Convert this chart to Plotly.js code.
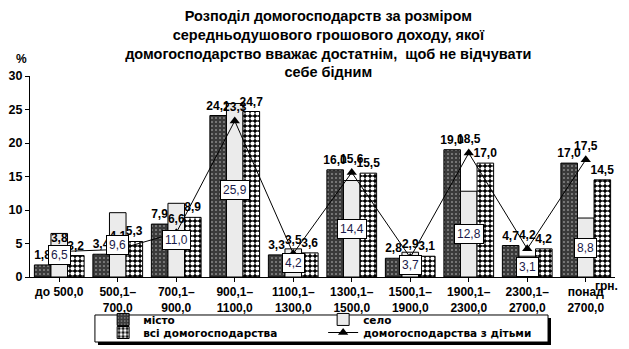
<!DOCTYPE html>
<html>
<head>
<meta charset="utf-8">
<script src="https://cdn.plot.ly/plotly-3.0.1.min.js"></script>
<style>html,body{margin:0;padding:0;background:#fff;}#chart{width:629px;height:349px;}</style>
</head>
<body>
<div id="chart"></div>
<script>
const categories = ["до 500,0", "500,1–<br>700,0", "700,1–<br>900,0", "900,1–<br>1100,0", "1100,1–<br>1300,0", "1300,1–<br>1500,0", "1500,1–<br>1900,0", "1900,1–<br>2300,0", "2300,1–<br>2700,0", "понад<br>2700,0"];
const misto = [1.8, 3.4, 7.9, 24.1, 3.3, 16.0, 2.8, 19.0, 4.7, 17.0];
const selo = [6.5, 9.6, 11.0, 25.9, 4.2, 14.4, 3.7, 12.8, 3.1, 8.8];
const vsi = [3.2, 5.3, 8.9, 24.7, 3.6, 15.5, 3.1, 17.0, 4.2, 14.5];
const dity = [3.8, 4.1, 6.6, 23.3, 3.5, 15.6, 2.9, 18.5, 4.2, 17.5];
const seriesNames = ["місто", "село", "всі домогосподарства", "домогосподарства з дітьми"];
const yTicks = [0, 5, 10, 15, 20, 25, 30];

const fmt = v => v.toFixed(1).replace('.', ',');
const FONT = "DejaVu Sans";
const LFONT = "Liberation Sans";
const x = categories.map((c, i) => i);
const labelFont = {family: LFONT, size: 12, color: '#000', weight: 'bold'};

const traces = [
  {type: 'bar', name: seriesNames[0], x: x, y: misto, legend: 'legend',
   marker: {color: '#3a3a3a', line: {color: '#000', width: 1},
            pattern: {shape: '.', fgcolor: '#c8c8c8', bgcolor: '#3a3a3a', size: 4, solidity: 0.12}},
   text: misto.map(fmt), textposition: 'outside', cliponaxis: false, constraintext: 'none',
   textfont: labelFont},
  {type: 'bar', name: seriesNames[1], x: x, y: selo, legend: 'legend',
   marker: {color: '#ebebeb', line: {color: '#000', width: 1}},
   hoverinfo: 'y'},
  {type: 'bar', name: seriesNames[2], x: x, y: vsi, legend: 'legend2',
   marker: {color: '#000', line: {color: '#000', width: 1},
            pattern: {shape: '.', fgcolor: '#fff', bgcolor: '#000', size: 5, solidity: 0.55}},
   text: vsi.map(fmt), textposition: 'outside', cliponaxis: false, constraintext: 'none',
   textfont: labelFont},
  {type: 'scatter', name: seriesNames[3], x: x, y: dity, mode: 'lines+markers+text', legend: 'legend2',
   line: {color: '#000', width: 1},
   marker: {symbol: 'triangle-up', size: 9, color: '#000'},
   text: dity.map(fmt), textposition: 'top center', cliponaxis: false,
   textfont: labelFont}
];

// boxed labels for "село" bars
const ann = selo.map((v, i) => ({
  x: i, y: Math.max(v * 0.5, 1.4), xref: 'x', yref: 'y', text: fmt(v), showarrow: false,
  font: {family: LFONT, size: 12, color: '#1a1a4a'}, bgcolor: '#fff', bordercolor: '#000',
  borderwidth: 1, borderpad: 2, yanchor: 'middle'
}));
ann.push({xref: 'paper', yref: 'paper', x: -0.014, y: 1.04, text: '%', showarrow: false,
  font: {family: LFONT, size: 12, color: '#000', weight: 'bold'}, xanchor: 'center', yanchor: 'bottom'});
ann.push({xref: 'paper', yref: 'paper', x: 0.985, y: 0.0, text: 'грн.', showarrow: false,
  font: {family: LFONT, size: 12, color: '#000', weight: 'bold'}, xanchor: 'center', yanchor: 'top'});

const legendBase = {orientation: 'h', xanchor: 'left', yanchor: 'top', bgcolor: 'rgba(0,0,0,0)',
  borderwidth: 0, entrywidth: 175, traceorder: 'normal',
  font: {family: FONT, size: 10.5, color: '#000', weight: 'bold'}};

const layout = {
  width: 629, height: 349,
  margin: {l: 30, r: 14, t: 76, b: 72, autoexpand: false},
  paper_bgcolor: '#fff', plot_bgcolor: '#fff',
  font: {family: FONT, color: '#000'},
  title: {text: 'Розподіл домогосподарств за розміром<br>середньодушового грошового доходу, якої<br>домогосподарство вважає достатнім,  щоб не відчувати<br>себе бідним',
          font: {family: LFONT, size: 14.5, color: '#000', weight: 'bold'},
          x: 0.51, xanchor: 'center', xref: 'paper', y: 0.94, yanchor: 'top', yref: 'container'},
  barmode: 'group', bargap: 0.15, bargroupgap: 0,
  showlegend: true,
  legend: Object.assign({}, legendBase, {x: 0.125, y: -0.139}),
  legend2: Object.assign({}, legendBase, {x: 0.125, y: -0.204}),
  xaxis: {tickmode: 'array', tickvals: x, ticktext: categories, range: [-0.5, 9.5],
          showline: true, linecolor: '#000', linewidth: 1, ticks: 'outside', tickson: 'boundaries',
          ticklen: 4, tickcolor: '#000', showgrid: false, zeroline: false, tickangle: 0,
          tickfont: {family: LFONT, size: 12, color: '#000', weight: 'bold'}},
  yaxis: {range: [0, 30], tickmode: 'array', tickvals: yTicks, showline: true, linecolor: '#000',
          linewidth: 1, ticks: 'outside', ticklen: 4, tickcolor: '#000', showgrid: false, zeroline: false,
          tickfont: {family: LFONT, size: 12.5, color: '#000', weight: 'bold'}},
  annotations: ann,
  shapes: [
    {type: 'rect', xref: 'paper', yref: 'paper', x0: 0.1162, x1: 0.8906, y0: -0.3383, y1: -0.204,
     fillcolor: '#000', line: {width: 0}, layer: 'below'},
    {type: 'rect', xref: 'paper', yref: 'paper', x0: 0.111, x1: 0.8855, y0: -0.3234, y1: -0.189,
     fillcolor: '#fff', line: {width: 1, color: '#000'}, layer: 'below'}
  ]
};

Plotly.newPlot('chart', traces, layout, {displayModeBar: false, staticPlot: true});
</script>
</body>
</html>
